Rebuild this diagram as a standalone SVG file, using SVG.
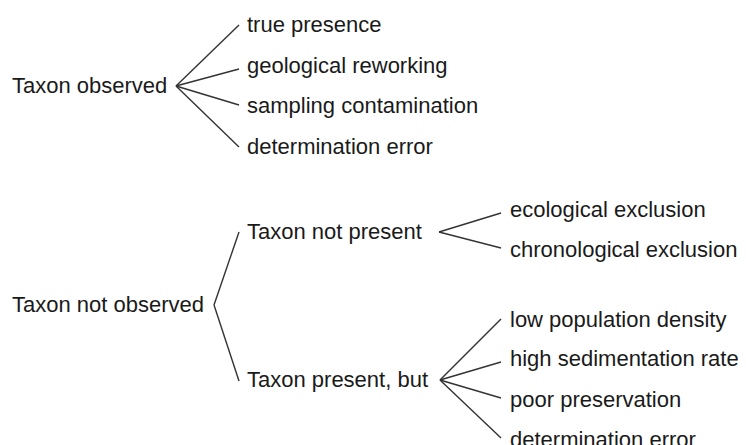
<svg xmlns="http://www.w3.org/2000/svg" width="746" height="445" viewBox="0 0 746 445">
<style>
text{font-family:"Liberation Sans",Arial,sans-serif;font-size:22px;fill:#1a1a1a}
.c line{stroke:#333;stroke-width:1.4;fill:none}
</style>
<rect width="746" height="445" fill="#fff"/>
<g class="c" id="connectors">
<line x1="176" y1="86" x2="239" y2="25"/>
<line x1="176" y1="86" x2="239" y2="69"/>
<line x1="176" y1="86" x2="239" y2="105"/>
<line x1="176" y1="86" x2="239" y2="147"/>
<line x1="214" y1="305" x2="239" y2="232"/>
<line x1="214" y1="305" x2="239" y2="381"/>
<line x1="439" y1="232" x2="501" y2="213"/>
<line x1="439" y1="232" x2="501" y2="248"/>
<line x1="440" y1="380" x2="501" y2="319"/>
<line x1="440" y1="380" x2="501" y2="362"/>
<line x1="440" y1="380" x2="501" y2="398"/>
<line x1="440" y1="380" x2="501" y2="438"/>
</g>
<g id="taxon-observed"><text x="12" y="93">Taxon observed</text></g>
<g id="true-presence"><text x="247" y="32">true presence</text></g>
<g id="geological-reworking"><text x="247" y="72.5">geological reworking</text></g>
<g id="sampling-contamination"><text x="247" y="113">sampling contamination</text></g>
<g id="determination-error-1"><text x="247" y="153.5">determination error</text></g>
<g id="taxon-not-observed"><text x="12" y="311.5">Taxon not observed</text></g>
<g id="taxon-not-present"><text x="247" y="238.5">Taxon not present</text></g>
<g id="taxon-present-but"><text x="247" y="386.5">Taxon present, but</text></g>
<g id="ecological-exclusion"><text x="510" y="217">ecological exclusion</text></g>
<g id="chronological-exclusion"><text x="510" y="257">chronological exclusion</text></g>
<g id="low-population-density"><text x="510" y="326.5">low population density</text></g>
<g id="high-sedimentation-rate"><text x="510" y="366">high sedimentation rate</text></g>
<g id="poor-preservation"><text x="510" y="407">poor preservation</text></g>
<g id="determination-error-2"><text x="510" y="447">determination error</text></g>
</svg>
